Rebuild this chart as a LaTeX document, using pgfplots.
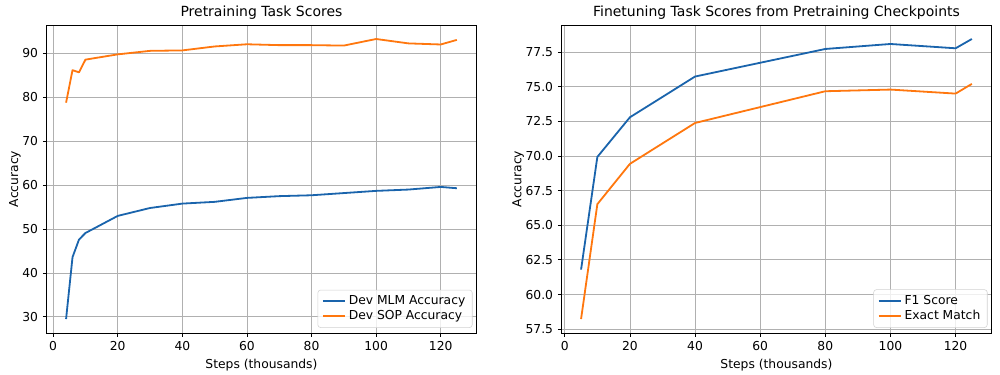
\documentclass[border=0pt]{standalone}
\usepackage{pgfplots}
\pgfplotsset{compat=1.18}
\usepackage{fontspec}
\setmainfont{DejaVu Sans}
\definecolor{mblue}{HTML}{1A64AC}
\definecolor{morange}{HTML}{FF770E}
\definecolor{gridgray}{HTML}{B0B0B0}
\begin{document}
\begin{tikzpicture}
\path[use as bounding box] (0,0) rectangle (720bp,270bp);
\pgfplotsset{
  myax/.style={
    scale only axis,
    anchor=south west,
    width=309.5bp, height=221.8bp,
    grid=major,
    major grid style={gridgray, line width=0.6bp},
    axis line style={black, line width=0.6bp},
    tick align=outside,
    tick pos=left,
    major tick length=2.6bp,
    tick style={black, line width=0.6bp},
    /pgf/number format/assume math mode=true,
    tick label style={font=\fontsize{8.9}{10.5}\selectfont},
    label style={font=\fontsize{8.9}{10.5}\selectfont},
    title style={font=\fontsize{10.1}{12}\selectfont, yshift=-5.5bp},
    xlabel style={yshift=1bp},
    ylabel style={yshift=-5.7bp},
    xlabel={Steps (thousands)},
    ylabel={Accuracy},
    xtick={0,20,40,60,80,100,120},
    legend cell align=left,
    legend style={font=\fontsize{8.9}{10.5}\selectfont, draw=gray!35, rounded corners=2bp,
      fill=white, fill opacity=0.8, text opacity=1, anchor=south east,
      inner xsep=3bp, inner ysep=2bp, row sep=-1bp},
    legend image code/.code={\draw[##1, line width=1.3bp] (0bp,0bp) -- (16bp,0bp);},
    every axis plot/.append style={line width=1.3bp, line join=round},
  }
}
\begin{axis}[myax, at={(33.5bp,30.2bp)},
  title={Pretraining Task Scores},
  xmin=-2.05, xmax=131.05, ymin=26.31, ymax=96.49,
  ytick={30,40,50,60,70,80,90},
  legend style={at={(0.991,0.017)}}]
\addplot[mblue] coordinates {(4,29.5) (6,43.6) (8,47.6) (10,49.1) (20,53.0) (30,54.8) (40,55.8) (50,56.2) (60,57.1) (70,57.5) (80,57.7) (90,58.2) (100,58.7) (110,59.0) (120,59.6) (125,59.3)};
\addlegendentry{Dev MLM Accuracy}
\addplot[morange] coordinates {(4,78.8) (6,86.2) (8,85.7) (10,88.6) (20,89.8) (30,90.6) (40,90.7) (50,91.6) (60,92.1) (70,91.9) (80,91.9) (90,91.8) (100,93.3) (110,92.3) (120,92.05) (125,93.1)};
\addlegendentry{Dev SOP Accuracy}
\end{axis}
\begin{axis}[myax, at={(404.3bp,30.2bp)},
  title={Finetuning Task Scores from Pretraining Checkpoints},
  xmin=-1, xmax=131, ymin=57.22, ymax=79.45,
  ytick={57.5,60,62.5,65,67.5,70,72.5,75,77.5},
  yticklabel style={/pgf/number format/.cd, fixed, fixed zerofill, precision=1},
  legend style={at={(0.991,0.017)}}]
\addplot[mblue] coordinates {(5,61.8) (10,69.93) (20,72.79) (40,75.73) (80,77.72) (100,78.08) (120,77.77) (125,78.44)};
\addlegendentry{F1 Score}
\addplot[morange] coordinates {(5,58.23) (10,66.52) (20,69.43) (40,72.38) (80,74.67) (100,74.79) (120,74.5) (125,75.2)};
\addlegendentry{Exact Match}
\end{axis}
\end{tikzpicture}
\end{document}
